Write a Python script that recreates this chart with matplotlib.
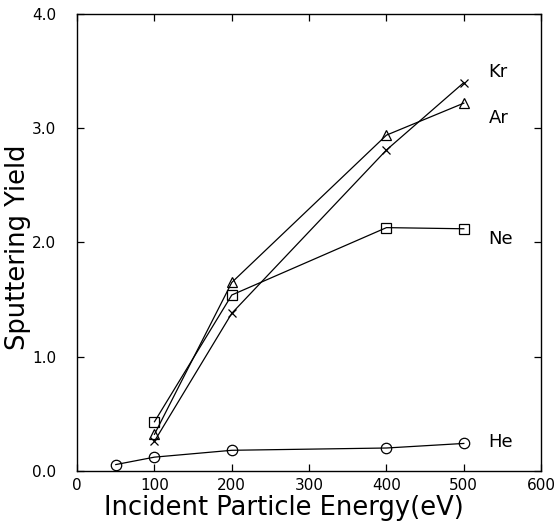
import matplotlib
matplotlib.use("Agg")
import matplotlib.pyplot as plt

# energies (eV) and sputtering yields
he_e = [50, 100, 200, 400, 500]
he_y = [0.055, 0.12, 0.18, 0.20, 0.24]

ne_e = [100, 200, 400, 500]
ne_y = [0.43, 1.54, 2.13, 2.12]

ar_e = [100, 200, 400, 500]
ar_y = [0.32, 1.65, 2.94, 3.22]

kr_e = [100, 200, 400, 500]
kr_y = [0.26, 1.38, 2.81, 3.40]

labels = ["Kr", "Ar", "Ne", "He"]
label_y = [3.49, 3.09, 2.03, 0.25]

fig = plt.figure(figsize=(5.55, 5.22), dpi=100)
ax = fig.add_axes([0.139, 0.098, 0.836, 0.875])

kw = dict(color="black", linewidth=0.9, markerfacecolor="none",
          markeredgecolor="black", markeredgewidth=0.9)
ax.plot(he_e, he_y, marker="o", markersize=7.5, **kw)
ax.plot(ne_e, ne_y, marker="s", markersize=6.5, **kw)
ax.plot(ar_e, ar_y, marker="^", markersize=7, **kw)
ax.plot(kr_e, kr_y, marker="x", markersize=6, **kw)

for lab, yy in zip(labels, label_y):
    ax.text(532, yy, lab, fontsize=13, ha="left", va="center")

ax.set_xlim(0, 600)
ax.set_ylim(0, 4.0)
ax.set_xticks(range(0, 601, 100))
ax.set_yticks([0, 1, 2, 3, 4])
ax.set_yticklabels(["0.0", "1.0", "2.0", "3.0", "4.0"])
ax.tick_params(direction="in", length=5, width=0.9, labelsize=11,
               top=True, right=True)
ax.tick_params(axis="x", pad=5)
ax.tick_params(axis="y", pad=15)
for s in ax.spines.values():
    s.set_linewidth(1.0)

ax.set_xlabel("Incident Particle Energy(eV)", fontsize=18.5)
ax.set_ylabel("Sputtering Yield", fontsize=18.5)
ax.xaxis.set_label_coords(0.445, -0.052)
ax.yaxis.set_label_coords(-0.1, 0.49)

fig.savefig("out.png", dpi=100)
